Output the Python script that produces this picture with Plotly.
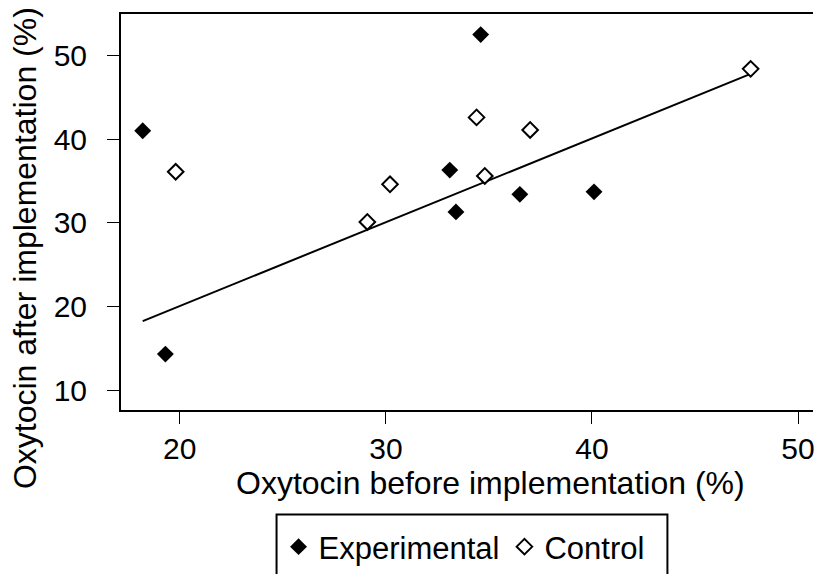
import plotly.graph_objects as go

# Experimental (filled diamonds)
exp_before = [18.2, 19.3, 34.6, 33.1, 33.4, 36.5, 40.1]
exp_after = [41.0, 14.3, 52.5, 36.3, 31.3, 33.4, 33.7]

# Control (open diamonds)
ctl_before = [19.8, 29.1, 30.2, 34.4, 34.8, 37.0, 47.7]
ctl_after = [36.1, 30.1, 34.6, 42.6, 35.6, 41.1, 48.4]

# Fitted regression line endpoints
fit_x = [18.2, 47.7]
fit_y = [18.25, 47.8]

x_ticks = [20, 30, 40, 50]
y_ticks = [10, 20, 30, 40, 50]

x_title = "Oxytocin before implementation (%)"
y_title = "Oxytocin after implementation (%)"

FONT = "Liberation Sans, Arial, Helvetica, sans-serif"

# plot-area geometry (pixels)
L, R, T, B = 121, 815, 14, 412
PW, PH = R - L, B - T


def px(xp):
    return (xp - L) / PW


def py(yp):
    return (B - yp) / PH


fig = go.Figure()
fig.add_trace(go.Scatter(x=fit_x, y=fit_y, mode="lines",
                         line=dict(color="black", width=2), showlegend=False,
                         hoverinfo="skip"))
fig.add_trace(go.Scatter(x=exp_before, y=exp_after, mode="markers", name="Experimental",
                         marker=dict(symbol="diamond", size=13, color="black",
                                     line=dict(width=0))))
fig.add_trace(go.Scatter(x=ctl_before, y=ctl_after, mode="markers", name="Control",
                         marker=dict(symbol="diamond", size=12, color="white",
                                     line=dict(color="black", width=2))))

fig.update_layout(
    width=815, height=574,
    margin=dict(l=L, r=815 - R, t=T, b=574 - B),
    paper_bgcolor="white", plot_bgcolor="white",
    font=dict(family=FONT, color="black", size=30),
    showlegend=True,
    legend=dict(orientation="h", x=px(279), xanchor="left",
                y=py(523), yanchor="top",
                font=dict(size=31, family=FONT), bgcolor="rgba(0,0,0,0)",
                borderwidth=0, itemwidth=30),
)
fig.update_xaxes(range=[17.146, 50.726], tickvals=x_ticks, ticks="outside",
                 ticklen=12, tickwidth=1, tickcolor="black",
                 showline=True, linecolor="black", linewidth=2, mirror=True,
                 showgrid=False, zeroline=False, ticklabeloverflow="allow",
                 tickfont=dict(size=30), ticklabelstandoff=-1)
fig.update_yaxes(range=[7.62, 54.96], tickvals=y_ticks, ticks="outside",
                 ticklen=12, tickwidth=1, tickcolor="black",
                 showline=True, linecolor="black", linewidth=2, mirror=False,
                 showgrid=False, zeroline=False, ticklabeloverflow="allow",
                 tickfont=dict(size=30), ticklabelstandoff=14)

# axis titles
fig.add_annotation(text=x_title, xref="paper", yref="paper",
                   x=px(491.5), y=py(485), xanchor="center", yanchor="middle",
                   showarrow=False, font=dict(size=32, family=FONT, color="black"))
fig.add_annotation(text=y_title, xref="paper", yref="paper", textangle=-90,
                   x=px(25), y=py(249), xanchor="center", yanchor="middle",
                   showarrow=False, font=dict(size=32, family=FONT, color="black"))

# legend box border (clipped at bottom as in the original)
fig.add_shape(type="rect", xref="paper", yref="paper",
              x0=px(277), x1=px(669), y0=py(517), y1=py(600),
              line=dict(color="black", width=2), fillcolor="rgba(0,0,0,0)")

fig.write_html("out.html", config={"displayModeBar": False},
               post_script="document.body.style.margin='0';document.body.style.overflow='hidden';")
